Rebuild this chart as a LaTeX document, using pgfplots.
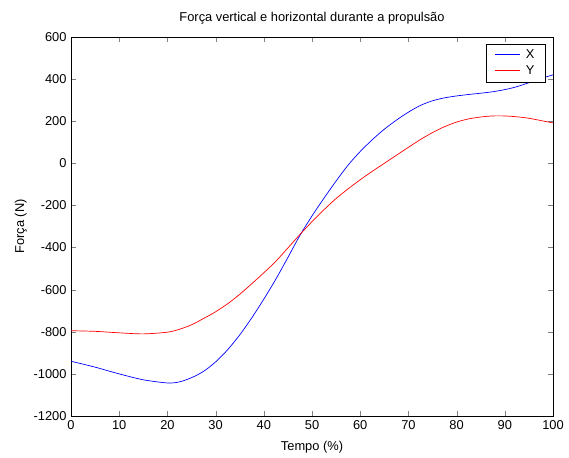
\documentclass[border=0pt]{standalone}
\usepackage{pgfplots}
\pgfplotsset{compat=1.18}
\usepackage{fontspec}
\setmainfont{Liberation Sans}
\begin{document}
\fontsize{12.9}{15}\selectfont
\begin{tikzpicture}[x=1bp,y=1bp]
\path[use as bounding box] (-71,-42) rectangle (498,416);
\begin{axis}[
  at={(0,0)}, anchor=south west,
  scale only axis, width=482bp, height=379bp,
  xmin=0, xmax=100, ymin=-1200, ymax=600,
  xtick={0,10,...,100}, ytick={-1200,-1000,...,600},
  tick align=inside, major tick length=5bp,
  xtick pos=both, ytick pos=both,
  /pgf/number format/assume math mode=true,
  /pgf/number format/set thousands separator={},
  ticklabel style={font=\fontsize{12.9}{15}\selectfont},
  label style={font=\fontsize{12.9}{15}\selectfont},
  title style={font=\fontsize{12.9}{15}\selectfont},
  title={Força vertical e horizontal durante a propulsão},
  title style={at={(0.5,1)}, yshift=2bp},
  xlabel={Tempo (\%)}, ylabel={Força (N)},
  xlabel style={yshift=-3bp},
  ylabel style={yshift=-2bp},
  axis line style={line width=0.8pt},
  legend style={at={(0.985,0.982)}, anchor=north east, line width=0.6pt,
    font=\fontsize{12.9}{15}\selectfont, inner xsep=9bp, inner ysep=4bp,
    row sep=1bp, column sep=4bp},
  legend cell align=left,
]
\addplot[color=blue, line width=0.7pt, smooth,
  legend image code/.code={\node[inner sep=0pt, anchor=west] at (0bp,0bp) {\textcolor{blue}{\rule{25bp}{0.7bp}}};}] coordinates {
(0,-940) (5,-968) (10,-1000) (15,-1028) (20,-1043) (22.5,-1038) (25,-1018)
(27.5,-988) (30,-943) (32.5,-885) (35,-815) (37.5,-734) (40,-645) (42.5,-550)
(45,-447) (47.5,-342) (50,-250) (52.5,-165) (55,-84) (57.5,-8) (60,56)
(62.5,112) (65,162) (67.5,205) (70,243) (72.5,275) (75,297) (77.5,311)
(80,320) (82.5,327) (85,333) (87.5,340) (90,350) (92.5,364) (95,383)
(97.5,403) (100,420)};
\addlegendentry{X}
\addplot[color=red, line width=0.7pt, smooth,
  legend image code/.code={\node[inner sep=0pt, anchor=west] at (0bp,0bp) {\textcolor{red}{\rule{25bp}{0.7bp}}};}] coordinates {
(0,-795) (5,-798) (10,-805) (15,-810) (20,-802) (22.5,-788) (25,-767)
(27.5,-737) (30,-705) (32.5,-667) (35,-622) (37.5,-572) (40,-520) (42.5,-465)
(45,-402) (47.5,-338) (50,-277) (52.5,-220) (55,-167) (57.5,-121) (60,-78)
(62.5,-38) (65,0) (67.5,38) (70,76) (72.5,113) (75,146) (77.5,174)
(80,196) (82.5,211) (85,220) (87.5,225) (90,225) (92.5,221) (95,214)
(97.5,203) (100,192)};
\addlegendentry{Y}
\end{axis}
\end{tikzpicture}
\end{document}
